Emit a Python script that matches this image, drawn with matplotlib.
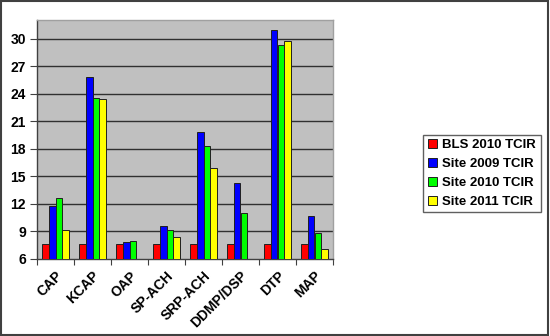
import numpy as np
import matplotlib
matplotlib.use("Agg")
import matplotlib.pyplot as plt
from matplotlib.patches import Rectangle

categories = ["CAP", "KCAP", "OAP", "SP-ACH", "SRP-ACH", "DDMP/DSP", "DTP", "MAP"]
bls_2010 = [7.6, 7.6, 7.6, 7.6, 7.6, 7.6, 7.6, 7.6]
site_2009 = [11.8, 25.8, 7.9, 9.6, 19.8, 14.3, 31.0, 10.7]
site_2010 = [12.7, 23.6, 7.95, 9.2, 18.3, 11.05, 29.3, 8.8]
site_2011 = [9.2, 23.45, np.nan, 8.4, 15.9, np.nan, 29.8, 7.05]
series_names = ["BLS 2010 TCIR", "Site 2009 TCIR", "Site 2010 TCIR", "Site 2011 TCIR"]
yticks = [6, 9, 12, 15, 18, 21, 24, 27, 30]

plt.rcParams['font.family'] = ['Liberation Sans', 'DejaVu Sans']

fig = plt.figure(figsize=(5.5, 3.36), dpi=100)
fig.patch.set_facecolor('white')
fig.add_artist(Rectangle((0.002, 0.003), 0.995, 0.994, transform=fig.transFigure,
                         fill=False, edgecolor='#404040', linewidth=1.5))

ax = fig.add_axes([37/550, 1-259/336, (333-37)/550, (259-20)/336])
ax.set_facecolor('#C0C0C0')

colors = ['#FF0000', '#0000FF', '#00FF00', '#FFFF00']
data = [bls_2010, site_2009, site_2010, site_2011]
x = np.arange(len(categories))
w = 0.185
for i, (vals, c, name) in enumerate(zip(data, colors, series_names)):
    vals = np.array(vals, dtype=float)
    ax.bar(x + (i - 1.5) * w, vals - 6, bottom=6, width=w, color=c,
           edgecolor='#202020', linewidth=0.7, label=name, zorder=3)

ax.set_xlim(-0.5, len(categories) - 0.5)
ax.set_ylim(6, 32.05)
ax.set_yticks(yticks)
ax.set_yticklabels([str(t) for t in yticks], fontsize=10, fontweight='bold')
for t in yticks[1:]:
    ax.axhline(t, color='#303030', linewidth=1.0, zorder=1)

ax.set_xticks(np.arange(len(categories) + 1) - 0.5, minor=False)
ax.set_xticklabels([])
ax.set_xticks(x, minor=True)
ax.set_xticklabels(categories, minor=True, rotation=45, ha='right',
                   rotation_mode='anchor', fontsize=10, fontweight='bold')
ax.tick_params(axis='x', which='minor', length=0, pad=7)
ax.tick_params(axis='x', which='major', length=4, direction='out', color='#404040')
ax.tick_params(axis='y', length=5, direction='out', color='#404040', pad=3)

for side in ['top', 'right']:
    ax.spines[side].set_color('#A0A0A0')
    ax.spines[side].set_linewidth(1.0)
for side in ['left', 'bottom']:
    ax.spines[side].set_color('#404040')
    ax.spines[side].set_linewidth(1.0)

leg = fig.legend(loc='center left', bbox_to_anchor=(423/550, 1-173.5/336),
                 bbox_transform=fig.transFigure, borderaxespad=0,
                 prop={'size': 9.5, 'weight': 'bold'}, fancybox=False,
                 handlelength=0.7, handleheight=0.7, handletextpad=0.4,
                 labelspacing=0.5, borderpad=0.35, framealpha=1)
leg.get_frame().set_edgecolor('#606060')
leg.get_frame().set_linewidth(1.0)

fig.savefig('out.png', dpi=100, facecolor='white')
